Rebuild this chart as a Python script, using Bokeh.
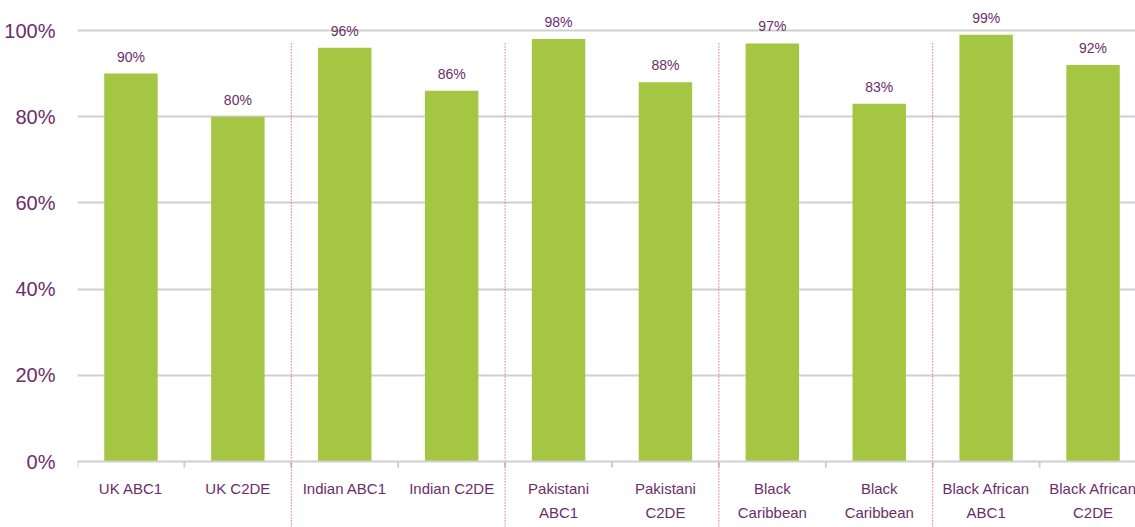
from bokeh.plotting import figure
from bokeh.models import Range1d, FixedTicker, Span, ColumnDataSource
from bokeh.core.properties import value
from bokeh.embed import file_html
from bokeh.resources import INLINE

categories = ["UK ABC1", "UK C2DE", "Indian ABC1", "Indian C2DE",
              "Pakistani\nABC1", "Pakistani\nC2DE",
              "Black\nCaribbean\nABC1", "Black\nCaribbean\nC2DE",
              "Black African\nABC1", "Black African\nC2DE"]
values = [90, 80, 96, 86, 98, 88, 97, 83, 99, 92]
value_labels = [f"{v}%" for v in values]
y_ticks = [0, 20, 40, 60, 80, 100]
y_tick_labels = {t: f"{t}%" for t in y_ticks}
group_size = 2

PURPLE = "#6b2d6b"
GREEN = "#a5c642"
GRAY = "#cfcfcf"
FONT = "Liberation Sans"

W, H = 1135, 527
p = figure(width=W, height=H, output_backend="svg", toolbar_location=None,
           x_range=Range1d(0, 1058 / 106.9), y_range=Range1d(-15.31, 461 / 4.31),
           min_border_left=77, min_border_right=0, min_border_top=0, min_border_bottom=0)
p.outline_line_color = None
p.xaxis.visible = False
p.xgrid.visible = False

n = len(categories)
xs = [i + 0.5 for i in range(n)]
src = ColumnDataSource(dict(x=xs, top=values, lab=value_labels, cat=categories))

p.vbar(x="x", top="top", width=0.5, bottom=0, source=src, color=GREEN, line_color=None)

# y axis
p.yaxis.ticker = FixedTicker(ticks=y_ticks)
p.yaxis.major_label_overrides = y_tick_labels
p.yaxis.axis_line_color = None
p.yaxis.major_tick_line_color = None
p.yaxis.minor_tick_line_color = None
p.yaxis.major_label_standoff = 16
p.yaxis.major_label_text_font = FONT
p.yaxis.major_label_text_font_size = "20px"
p.yaxis.major_label_text_color = PURPLE
p.ygrid.ticker = FixedTicker(ticks=[t for t in y_ticks if t > 0])
p.ygrid.grid_line_color = GRAY
p.ygrid.grid_line_width = 2

# category axis drawn at 0
p.add_layout(Span(location=0, dimension="width", line_color=GRAY, line_width=2))
bounds = list(range(n + 1))
p.segment(x0=bounds, x1=bounds, y0=[0] * len(bounds), y1=[-1.4] * len(bounds),
          line_color=GRAY, line_width=2)

# group dividers
divs = list(range(group_size, n, group_size))
p.segment(x0=divs, x1=divs, y0=[97] * len(divs), y1=[-20] * len(divs),
          line_color="#d42a55", line_width=1, line_dash="1 2")

# value labels
p.text(x="x", y="top", text="lab", source=src, text_align="center",
       text_baseline="middle", y_offset=-17, text_font=value(FONT),
       text_font_size="14px", text_color=PURPLE)

# category labels
p.text(x="x", y=0, text="cat", source=src, text_align="center",
       text_baseline="top", y_offset=18, text_font=value(FONT),
       text_font_size="15px", text_color=PURPLE, text_line_height=1.42)

open("out.html", "w").write(file_html(p, INLINE))
